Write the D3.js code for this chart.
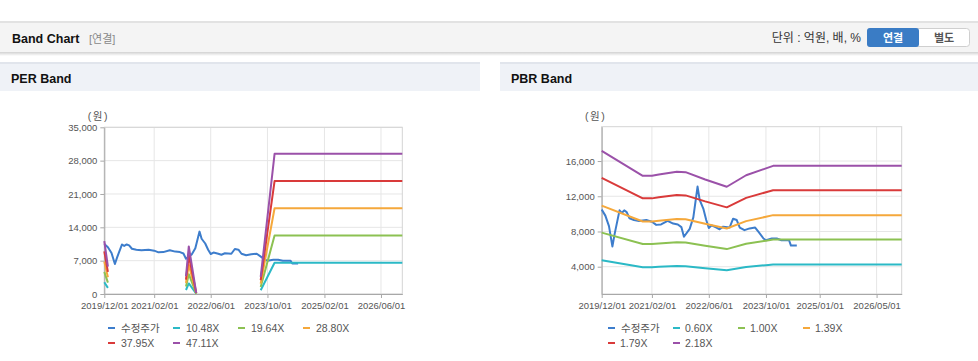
<!DOCTYPE html>
<html>
<head>
<meta charset="utf-8">
<script src="https://cdn.jsdelivr.net/npm/d3@7"></script>
<style>
body { margin: 0; background: #fff; }
svg text { font-family: "Liberation Sans", "Noto Sans CJK KR", sans-serif; }
</style>
</head>
<body>
<svg id="page" width="978" height="361"></svg>
<script>
// adjusted close price (수정주가), shared by both charts
var priceDates = ["2019-12-01","2020-01-01","2020-02-01","2020-03-01","2020-03-20","2020-05-01","2020-05-20","2020-06-10","2020-07-01","2020-07-25","2020-09-01","2020-10-15","2020-12-15","2021-02-01","2021-03-10","2021-04-20","2021-06-15","2021-08-01","2021-09-10","2021-10-10","2021-11-01","2021-12-20","2022-01-20","2022-02-25","2022-03-15","2022-04-15","2022-05-10","2022-06-01","2022-06-25","2022-08-05","2022-09-01","2022-10-01","2022-11-25","2022-12-25","2023-01-25","2023-02-20","2023-04-01","2023-05-15","2023-07-01","2023-07-30","2023-09-10","2023-10-01","2023-11-20","2024-01-01","2024-02-10","2024-04-15","2024-05-01","2024-06-20"];
var priceValues = [10500,9800,8600,6300,7700,10400,10100,10400,10200,9500,9300,9200,9300,9100,8750,8800,9200,8900,8800,8500,7400,8300,9600,13100,11600,10600,9300,8400,8700,8450,8250,8550,8450,9450,9300,8450,8150,8350,8450,7950,7200,7000,7200,7200,7000,7000,6400,6400];

// EPS behind the PER bands (null = no band)
var epsDates = ["2019-12-01","2020-01-01","2020-06-01","2021-11-01","2021-11-25","2022-01-28","2022-10-01","2023-08-04","2023-12-01","2026-12-01"];
var epsValues = [236,122,null,80,212,5,null,76,625,625];
var perMultiples = [10.48, 19.64, 28.80, 37.95, 47.11];

// BPS behind the PBR bands
var bpsDates = ["2019-12-01","2020-11-15","2021-02-01","2021-04-01","2021-09-01","2021-11-15","2022-05-01","2022-11-01","2023-04-15","2023-10-01","2023-12-01","2026-12-01"];
var bpsValues = [7870,6570,6570,6640,6780,6760,6380,6000,6600,6960,7090,7090];
var pbrMultiples = [0.60, 1.00, 1.39, 1.79, 2.18];

var perYTicks = [0, 7000, 14000, 21000, 28000, 35000];
var pbrYTicks = [4000, 8000, 12000, 16000];
var perXTicks = ["2019-12-01","2021-02-01","2022-06-01","2023-10-01","2025-02-01","2026-06-01"];
var pbrXTicks = ["2019-12-01","2021-02-01","2022-06-01","2023-10-01","2025-01-01","2026-05-01"];
var priceLabel = "수정주가";
var colors = ["#3d7dcc", "#2bb9c6", "#8cc152", "#f5a83b", "#d93a3a", "#9b51a9"];

var parse = d3.timeParse("%Y-%m-%d"),
    fmt = d3.timeFormat("%Y/%m/%d"),
    fmtNum = d3.format(",");
var svg = d3.select("#page");

// ---- top header
svg.append("rect").attr("x", 0).attr("y", 22).attr("width", 978).attr("height", 30).attr("fill", "#f4f4f4");
svg.append("rect").attr("x", 0).attr("y", 21).attr("width", 978).attr("height", 2).attr("fill", "#e2e2e2");
var grad = svg.append("defs").append("linearGradient").attr("id", "shadow").attr("x1", 0).attr("x2", 0).attr("y1", 0).attr("y2", 1);
grad.append("stop").attr("offset", 0).attr("stop-color", "#000").attr("stop-opacity", 0.18);
grad.append("stop").attr("offset", 1).attr("stop-color", "#000").attr("stop-opacity", 0);
svg.append("rect").attr("x", 0).attr("y", 52).attr("width", 978).attr("height", 4).attr("fill", "url(#shadow)");
svg.append("text").attr("x", 12).attr("y", 43).attr("font-size", 12.5).attr("font-weight", "bold").attr("fill", "#111").text("Band Chart");
svg.append("text").attr("x", 89).attr("y", 43).attr("font-size", 11).attr("fill", "#888").text("[연결]");
svg.append("text").attr("x", 861).attr("y", 42).attr("font-size", 12).attr("text-anchor", "end").attr("fill", "#333").text("단위 : 억원, 배, %");
svg.append("rect").attr("x", 867.5).attr("y", 28.5).attr("width", 102).attr("height", 18).attr("rx", 3).attr("fill", "#fff").attr("stroke", "#cfcfcf");
svg.append("rect").attr("x", 867).attr("y", 28).attr("width", 52).attr("height", 19).attr("rx", 3).attr("fill", "#3a7cc5");
svg.append("text").attr("x", 893).attr("y", 41.5).attr("font-size", 11).attr("font-weight", "bold").attr("text-anchor", "middle").attr("fill", "#fff").text("연결");
svg.append("text").attr("x", 944).attr("y", 41.5).attr("font-size", 11).attr("font-weight", "bold").attr("text-anchor", "middle").attr("fill", "#555").text("별도");

function drawPanel(opt) {
    var g = svg.append("g");
    g.append("rect").attr("x", opt.px).attr("y", 62).attr("width", opt.pw).attr("height", 29).attr("fill", "#eff2f7");
    g.append("rect").attr("x", opt.px).attr("y", 62).attr("width", opt.pw).attr("height", 2).attr("fill", "#e1e5ec");
    g.append("text").attr("x", opt.px + 11).attr("y", 83).attr("font-size", 12.5).attr("font-weight", "bold").attr("fill", "#111").text(opt.title);

    var x = d3.scaleTime().domain([parse("2019-12-01"), parse("2026-12-01")]).range([opt.x0, opt.x1]),
        y = d3.scaleLinear().domain(opt.yDomain).range([294, opt.yTop]);
    var xt = opt.xTicks.map(parse);

    // grid
    g.append("g").selectAll("line.v").data(xt).enter().append("line")
        .attr("x1", function (d) { return x(d); }).attr("x2", function (d) { return x(d); })
        .attr("y1", opt.yTop).attr("y2", 294).attr("stroke", "#e6e6e6");
    g.append("g").selectAll("line.h").data(opt.yTicks).enter().append("line")
        .attr("x1", opt.x0).attr("x2", opt.x1)
        .attr("y1", function (d) { return y(d); }).attr("y2", function (d) { return y(d); })
        .attr("stroke", "#e6e6e6");
    g.append("rect").attr("x", opt.x0).attr("y", opt.yTop).attr("width", opt.x1 - opt.x0).attr("height", 294 - opt.yTop)
        .attr("fill", "none").attr("stroke", "#d4d4d4");

    var ax = g.append("g").attr("transform", "translate(0,294)")
        .call(d3.axisBottom(x).tickValues(xt).tickFormat(fmt).tickSize(4).tickPadding(4).tickSizeOuter(0));
    var ay = g.append("g").attr("transform", "translate(" + opt.x0 + ",0)")
        .call(d3.axisLeft(y).tickValues(opt.yTicks).tickFormat(fmtNum).tickSize(4).tickPadding(3).tickSizeOuter(0));
    [ax, ay].forEach(function (a) {
        a.select(".domain").attr("stroke", "#a8a8a8");
        a.selectAll(".tick line").attr("stroke", "#a8a8a8");
        a.selectAll("text").attr("font-size", 9.5).attr("fill", "#555").attr("font-family", null);
    });
    g.append("text").attr("x", opt.x0 - 6).attr("y", 120).attr("font-size", 10.5).attr("text-anchor", "middle")
        .attr("letter-spacing", 1.5).attr("fill", "#555").text("(원)");

    var line = d3.line().defined(function (d) { return d[1] != null; })
        .x(function (d) { return x(d[0]); }).y(function (d) { return y(d[1]); });

    var price = priceDates.map(function (d, i) { return [parse(d), priceValues[i]]; });
    g.append("path").datum(price).attr("d", line).attr("fill", "none")
        .attr("stroke", colors[0]).attr("stroke-width", 2).attr("stroke-linejoin", "round");

    opt.multiples.forEach(function (m, k) {
        var band = opt.baseDates.map(function (d, i) {
            return [parse(d), opt.baseValues[i] == null ? null : opt.baseValues[i] * m];
        });
        g.append("path").datum(band).attr("d", line).attr("fill", "none")
            .attr("stroke", colors[k + 1]).attr("stroke-width", 2).attr("stroke-linejoin", "round");
    });

    // legend
    var names = [priceLabel].concat(opt.multiples.map(function (m) { return m.toFixed(2) + "X"; }));
    var lg = g.append("g").selectAll("g").data(names).enter().append("g")
        .attr("transform", function (d, i) {
            return "translate(" + (opt.legendX + (i % 4) * 65) + "," + (328 + Math.floor(i / 4) * 15) + ")";
        });
    lg.append("line").attr("x1", 0).attr("x2", 7).attr("y1", 0).attr("y2", 0)
        .attr("stroke", function (d, i) { return colors[i]; }).attr("stroke-width", 2);
    lg.append("text").attr("x", function (d, i) { return i === 0 ? 13 : opt.textGap; }).attr("y", 4)
        .attr("font-size", 10.5).attr("fill", "#555").text(function (d) { return d; });
}

drawPanel({ px: 0, pw: 480, title: "PER Band", x0: 104.3, x1: 402.3, yTop: 127.3, yDomain: [0, 35000],
    yTicks: perYTicks, xTicks: perXTicks, baseDates: epsDates, baseValues: epsValues, multiples: perMultiples,
    legendX: 108, textGap: 13 });
drawPanel({ px: 500, pw: 478, title: "PBR Band", x0: 601.7, x1: 901.7, yTop: 126.7, yDomain: [900, 19900],
    yTicks: pbrYTicks, xTicks: pbrXTicks, baseDates: bpsDates, baseValues: bpsValues, multiples: pbrMultiples,
    legendX: 608, textGap: 12 });
</script>
</body>
</html>
